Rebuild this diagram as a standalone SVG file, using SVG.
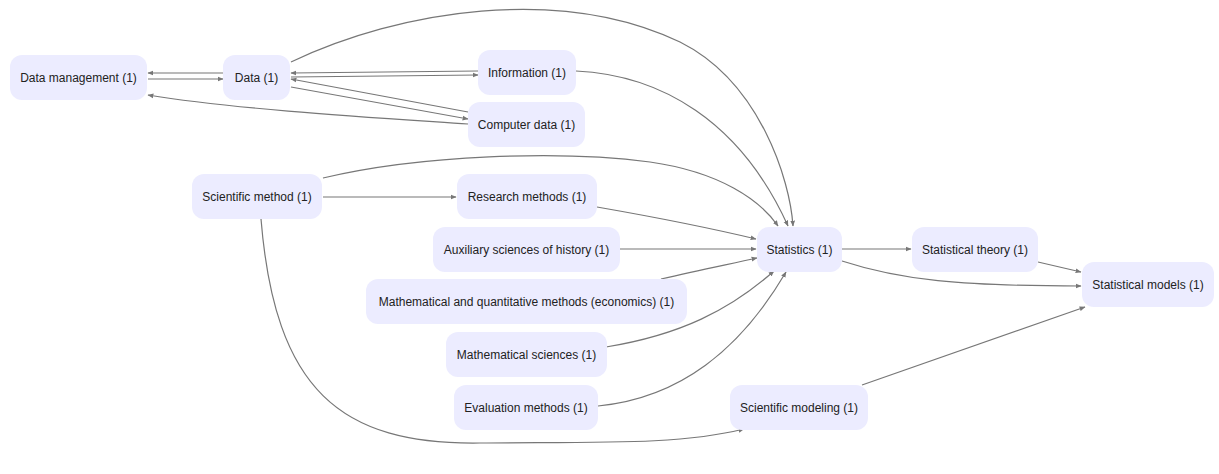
<svg xmlns="http://www.w3.org/2000/svg" width="1219" height="474" viewBox="0 0 1219 474">
<style>
.n rect{fill:#ececff;stroke:none}
.n text{font-family:"Liberation Sans",Arial,sans-serif;font-size:12px;fill:#222;text-anchor:middle;dominant-baseline:central}
.e path{fill:none;stroke:#777;stroke-width:1.2}
</style>
<defs>
<marker id="a" viewBox="0 0 10 10" refX="9" refY="5" markerWidth="6" markerHeight="6" markerUnits="userSpaceOnUse" orient="auto">
<path d="M0,1 L10,5 L0,9 z" fill="#777"/>
</marker>
</defs>
<rect width="1219" height="474" fill="#fff"/>
<g class="e" marker-end="url(#a)">
<path d="M223,73 L148,73"/>
<path d="M148,79 L223,79"/>
<path d="M478,71 L291,73"/>
<path d="M291,77 L478,75"/>
<path d="M468,112 L291,79"/>
<path d="M291,87 L468,119"/>
<path d="M468,124 C 380,118 240,110 148,95"/>
<path d="M291,62 C 400,10 560,-15 680,42 C 760,82 790,180 793,226"/>
<path d="M576,71 C 660,75 740,120 788,226"/>
<path d="M323,178 C 420,155 560,150 650,162 C 720,172 760,200 778,226"/>
<path d="M323,197 L456,197"/>
<path d="M597,207 C 660,218 710,228 756,239"/>
<path d="M620,249 L756,249"/>
<path d="M661,279 C 700,270 730,264 757,258"/>
<path d="M606,347 C 680,335 730,310 774,271"/>
<path d="M598,406 C 680,398 740,350 786,272"/>
<path d="M261,219 C 275,390 340,445 480,443 C 600,442 680,445 744,429"/>
<path d="M842,249 L911,249"/>
<path d="M842,261 C 900,280 960,286 1081,286"/>
<path d="M1038,262 L1081,272"/>
<path d="M862,385 L1085,307"/>
</g>
<g id="data-management" class="n"><rect x="10" y="55" width="137" height="45" rx="12"/><text x="78.5" y="77.5">Data management (1)</text></g>
<g id="data" class="n"><rect x="223" y="55" width="67" height="45" rx="12"/><text x="256.5" y="77.5">Data (1)</text></g>
<g id="information" class="n"><rect x="478" y="50" width="98" height="45" rx="12"/><text x="527" y="72.5">Information (1)</text></g>
<g id="computer-data" class="n"><rect x="468" y="102" width="117" height="45" rx="12"/><text x="526.5" y="124.5">Computer data (1)</text></g>
<g id="scientific-method" class="n"><rect x="192" y="174" width="130" height="45" rx="12"/><text x="257" y="196.5">Scientific method (1)</text></g>
<g id="research-methods" class="n"><rect x="457" y="174" width="140" height="45" rx="12"/><text x="527" y="196.5">Research methods (1)</text></g>
<g id="auxiliary-sciences" class="n"><rect x="433" y="227" width="187" height="45" rx="12"/><text x="526.5" y="249.5">Auxiliary sciences of history (1)</text></g>
<g id="math-quant" class="n"><rect x="366" y="279" width="321" height="45" rx="12"/><text x="526.5" y="301.5">Mathematical and quantitative methods (economics) (1)</text></g>
<g id="math-sciences" class="n"><rect x="446" y="332" width="161" height="45" rx="12"/><text x="526.5" y="354.5">Mathematical sciences (1)</text></g>
<g id="evaluation-methods" class="n"><rect x="454" y="385" width="144" height="45" rx="12"/><text x="526" y="407.5">Evaluation methods (1)</text></g>
<g id="statistics" class="n"><rect x="757" y="227" width="85" height="45" rx="12"/><text x="799.5" y="249.5">Statistics (1)</text></g>
<g id="statistical-theory" class="n"><rect x="912" y="227" width="126" height="45" rx="12"/><text x="975" y="249.5">Statistical theory (1)</text></g>
<g id="statistical-models" class="n"><rect x="1082" y="262" width="132" height="45" rx="12"/><text x="1148" y="284.5">Statistical models (1)</text></g>
<g id="scientific-modeling" class="n"><rect x="730" y="385" width="138" height="45" rx="12"/><text x="799" y="407.5">Scientific modeling (1)</text></g>
</svg>
